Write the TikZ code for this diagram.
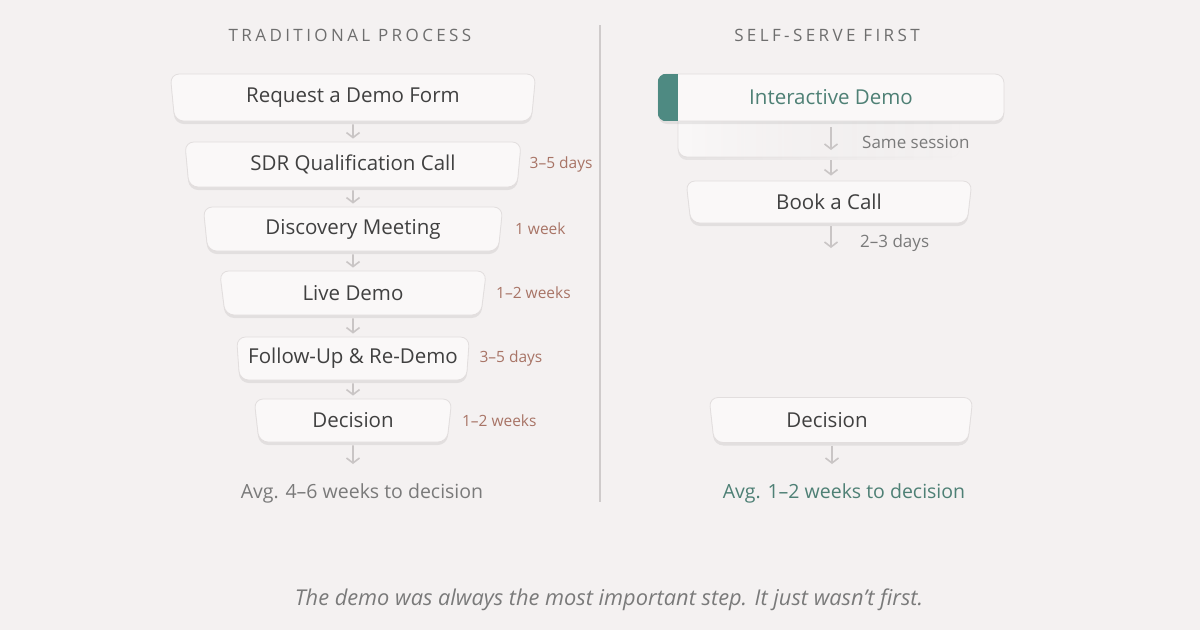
\documentclass[tikz,border=0pt]{standalone}
\usepackage{fontspec}
\setmainfont{Open Sans}
\newfontfamily\capsfont[LetterSpace=20]{Open Sans}
\usetikzlibrary{positioning,shapes.geometric,arrows.meta,shadows,fadings}

\definecolor{bgcol}{HTML}{F4F1F1}
\definecolor{boxfill}{HTML}{FAF8F8}
\definecolor{boxline}{HTML}{E2DEDE}
\definecolor{ink}{HTML}{404040}
\definecolor{softink}{HTML}{7A7A7A}
\definecolor{headink}{HTML}{6E6E6E}
\definecolor{rust}{HTML}{A87466}
\definecolor{tealbar}{HTML}{4E8A82}
\definecolor{tealink}{HTML}{4E8075}
\definecolor{arrowcol}{HTML}{C9C5C5}
\definecolor{rulecol}{HTML}{CFCBCB}

\tikzfading[name=cardfade, left color=transparent!0, middle color=transparent!10, right color=transparent!100]

\begin{document}
\begin{tikzpicture}[x=1pt,y=-1pt,
    stepbox/.style={trapezium, trapezium stretches=true, shape border rotate=180,
      trapezium left angle=84, trapezium right angle=84, rounded corners=9pt,
      draw=boxline, fill=boxfill, line width=0.8pt, text=ink,
      font=\fontsize{20.5}{24}\selectfont,
      drop shadow={shadow xshift=0pt, shadow yshift=-3pt, opacity=0.07, fill=black}},
    flow/.style={-{Straight Barb[length=5pt,width=13pt]}, draw=arrowcol,
      line width=1.6pt, shorten <=3pt, shorten >=3pt},
    wait/.style={text=rust, font=\fontsize{15.5}{18}\selectfont, inner sep=0pt, anchor=west},
    note/.style={text=softink, font=\fontsize{17}{20}\selectfont, inner sep=0pt, anchor=west},
    heading/.style={text=headink, font=\capsfont\fontsize{17}{20}\selectfont},
    avg/.style={text=softink, font=\fontsize{19.5}{22}\selectfont}]

  % page
  \useasboundingbox (0,0) rectangle (1200,630);
  \fill[bgcol] (0,0) rectangle (1200,630);

  % column titles and divider
  \node[heading] (lhead) at (350,35) {TRADITIONAL PROCESS};
  \node[heading] (rhead) at (827,35) {SELF-SERVE FIRST};
  \draw[rulecol, line width=1.2pt] (600,25) -- (600,502);

  % traditional process
  \node[stepbox, minimum width=366, minimum height=47] (req)  at (353,97.5)  {Request a Demo Form};
  \node[stepbox, minimum width=337, minimum height=45] (sdr)  at (353,164.5) {SDR Qualification Call};
  \node[stepbox, minimum width=300, minimum height=44] (disc) at (353,229)   {Discovery Meeting};
  \node[stepbox, minimum width=267, minimum height=44] (live) at (353,293)   {Live Demo};
  \node[stepbox, minimum width=233, minimum height=43] (fol)  at (353,358.5) {Follow-Up \& Re-Demo};
  \node[stepbox, minimum width=198, minimum height=43] (ldec) at (353,420.5) {Decision};

  \node[wait, right=10pt of sdr]  (w1) {3–5 days};
  \node[wait, right=14pt of disc] (w2) {1 week};
  \node[wait, right=12pt of live] (w3) {1–2 weeks};
  \node[wait, right=11pt of fol]  (w4) {3–5 days};
  \node[wait, right=12pt of ldec] (w5) {1–2 weeks};

  \foreach \a/\b in {req/sdr, sdr/disc, disc/live, live/fol, fol/ldec}
    \draw[flow] (\a.south) -- (\b.north);
  \coordinate (lend) at (353,467);
  \draw[flow] (ldec.south) -- (lend);
  \node[avg] (lavg) at (362,493) {Avg. 4–6 weeks to decision};

  % self-serve first
  \fill[black, opacity=0.06, path fading=cardfade, rounded corners=9pt] (678,103) rectangle (960,160);
  \fill[boxfill, path fading=cardfade, rounded corners=9pt] (678,100) rectangle (960,157);
  \draw[boxline, line width=0.8pt, path fading=cardfade, rounded corners=9pt] (678,100) rectangle (960,157);
  \node[stepbox, rectangle, minimum width=346, minimum height=47, text=tealink] (demo) at (831,97.5) {Interactive Demo};
  \coordinate (card) at (831,157);
  \begin{scope}
    \clip[rounded corners=9pt] (demo.north west) rectangle (demo.south east);
    \fill[tealbar] (demo.north west) rectangle ([xshift=20pt]demo.south west);
  \end{scope}
  \node[stepbox, trapezium left angle=85, trapezium right angle=85,
    minimum width=286, minimum height=42] (book) at (829,202) {Book a Call};
  \node[stepbox, minimum width=264, minimum height=45] (rdec) at (841,420) {Decision\kern28pt};

  \draw[flow, shorten <=6pt, shorten >=7pt] (demo.south) -- (card);
  \draw[flow, shorten >=5pt] (card) -- (card |- book.north);
  \coordinate (rwait) at (831,251);
  \draw[flow] (book.south -| rwait) -- (rwait);
  \coordinate (rend) at (832,467);
  \draw[flow] (rend |- rdec.south) -- (rend);

  \node[note] (same) at (862,142) {Same session};
  \node[note] (days) at (860,243) {2–3 days};
  \node[avg, text=tealink] (ravg) at (844,493) {Avg. 1–2 weeks to decision};

  % closing line
  \node[text=softink, font=\itshape\fontsize{21.8}{26}\selectfont] (moral) at (609,600)
    {The demo was always the most important step. It just wasn’t first.};
\end{tikzpicture}
\end{document}
